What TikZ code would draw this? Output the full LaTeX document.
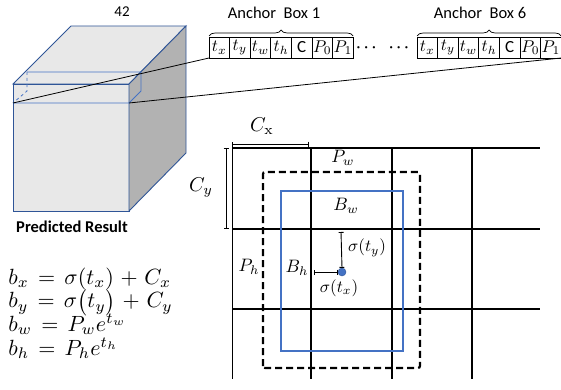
\documentclass[tikz,border=0pt]{standalone}
\usepackage{amsmath}
\usepackage{fontspec}
\setsansfont{Carlito}
\usetikzlibrary{decorations.pathreplacing,arrows.meta,positioning}
\definecolor{cubeblue}{RGB}{47,85,151}
\definecolor{boxblue}{RGB}{68,114,196}
\definecolor{facegray}{RGB}{232,232,232}
\definecolor{sidegray}{RGB}{178,178,178}

\tikzset{
  cell/.style={draw, line width=0.7pt, minimum width=20.6pt, minimum height=21pt,
    inner sep=0pt, outer sep=0pt},
  celltext/.style={scale=1.7, inner sep=0pt},
  lbl/.style={font=\sffamily\fontsize{16.5}{16.5}\selectfont},
  mlbl/.style={scale=1.8, inner sep=0.5pt},
  slbl/.style={scale=1.7, inner sep=0.5pt},
  eqs/.style={scale=2.2, align=left, inner sep=0pt, anchor=south west,
    font={\fontsize{10}{10.75}\selectfont\lineskiplimit=-20pt\thickmuskip=7.5mu\medmuskip=5.5mu}},
  gridline/.style={line width=1.4pt},
  dimline/.style={{Bar[width=5pt]}-{Bar[width=5pt]}, line width=0.9pt},
  brace/.style={decorate, decoration={brace, amplitude=6pt, raise=1pt}, line width=0.7pt},
}

\begin{document}
\begin{tikzpicture}[x=1pt, y=1pt]
  \useasboundingbox (0,0) rectangle (561,389);

  % cube
  \coordinate (fbl) at (13,178);
  \coordinate (fbr) at (129,178);
  \coordinate (ftl) at (13,305);
  \coordinate (ftr) at (129,305);
  \coordinate (btl) at (71,363);
  \coordinate (btr) at (186,363);
  \coordinate (bbr) at (186,236);
  \filldraw[fill=facegray, draw=cubeblue, line width=0.9pt] (fbl) rectangle (ftr);
  \filldraw[fill=facegray, draw=cubeblue, line width=0.9pt] (ftl) -- (btl) -- (btr) -- (ftr) -- cycle;
  \filldraw[fill=sidegray, draw=cubeblue, line width=0.9pt] (ftr) -- (btr) -- (bbr) -- (fbr) -- cycle;
  \coordinate (sl) at (13,286);
  \coordinate (sr) at (129,286);
  \draw[boxblue, line width=0.8pt] (sl) -- (sr) -- (141,298) -- (141,317) -- (27,317);
  \draw[boxblue, line width=0.8pt, dashed] (27,317) -- (27,298) -- (sl);
  \node[lbl, font=\sffamily\fontsize{15}{15}\selectfont] (depth) at (122,377) {42};
  \node[lbl, font=\sffamily\bfseries\fontsize{16.5}{16.5}\selectfont] (result) at (72,162) {Predicted Result};

  % anchor boxes
  \foreach \lab [count=\i from 0] in {$t_x$,$t_y$,$t_w$,$t_h$,\sffamily C,$P_0$,$P_1$} {
    \node[cell] (a\i) at ({219.3+20.6*\i},341.5) {};
    \node[celltext] (a\i t) at (a\i) {\lab};
    \node[cell] (f\i) at ({427.3+20.6*\i},341.5) {};
    \node[celltext] (f\i t) at (f\i) {\lab};
  }
  \node[scale=1.5] (dots) at (384,341.5) {$\boldsymbol{\cdots\;\;\cdots}$};
  \draw[brace] (a0.north west) -- (a6.north east) coordinate[midway] (am);
  \draw[brace] (f0.north west) -- (f6.north east) coordinate[midway] (fm);
  \node[lbl] (anc1) at (274,376) {Anchor\ \ Box 1};
  \node[lbl] (anc6) at (480,376) {Anchor\ \ Box 6};
  \draw[line width=0.8pt] (sl) -- (a0.south west);
  \draw[line width=0.8pt] (sr) -- (f6.south east);

  % grid
  \foreach \y in {241,160,80} {
    \draw[gridline] (232,\y) -- (540,\y);
  }
  \draw[line width=0.8pt] (232,241) -- (232,10);
  \foreach \x in {311,392,472} {
    \draw[gridline] (\x,241) -- (\x,10);
  }
  \coordinate (cxl) at (232,245);
  \coordinate (cxr) at (309,245);
  \draw[dimline] (cxl) -- (cxr);
  \node[scale=2] (cx) at (262,263) {$C_{\mathrm{x}}$};
  \coordinate (cyt) at (226,241);
  \coordinate (cyb) at (226,160);
  \draw[dimline] (cyt) -- (cyb);
  \node[scale=2] (cy) at (201,201) {$C_y$};

  % prior and predicted boxes
  \draw[line width=2.2pt, dash pattern=on 7pt off 4pt, rounded corners=2pt] (263,21) rectangle (420,217);
  \draw[boxblue, line width=2.2pt] (281,38) rectangle (403,198);
  \node[mlbl] (pw) at (343,231) {$P_w$};
  \node[mlbl] (bw) at (346,183) {$B_w$};
  \node[mlbl] (ph) at (249,122) {$P_h$};
  \node[mlbl] (bh) at (297,121) {$B_h$};
  \node[circle, fill=boxblue, draw=cubeblue, inner sep=0pt, minimum size=8pt] (ctr) at (342,117) {};
  \coordinate (tyt) at (341,157);
  \draw[dimline] (tyt) -- (ctr.north);
  \node[slbl] (sty) at (367,141) {$\sigma(t_y)$};
  \coordinate (txl) at (314,117);
  \draw[dimline] (txl) -- (ctr.west);
  \node[slbl] (stx) at (339,101) {$\sigma(t_x)$};

  % equations
  \node[eqs] (eq) at (8,30) {$b_x = \sigma(t_x) + C_x$\\
    $b_y = \sigma\bigl(t_y\bigr) + C_y$\\
    $b_w = P_w e^{t_w}$\\
    $b_h = P_h e^{t_h}$};
\end{tikzpicture}
\end{document}
